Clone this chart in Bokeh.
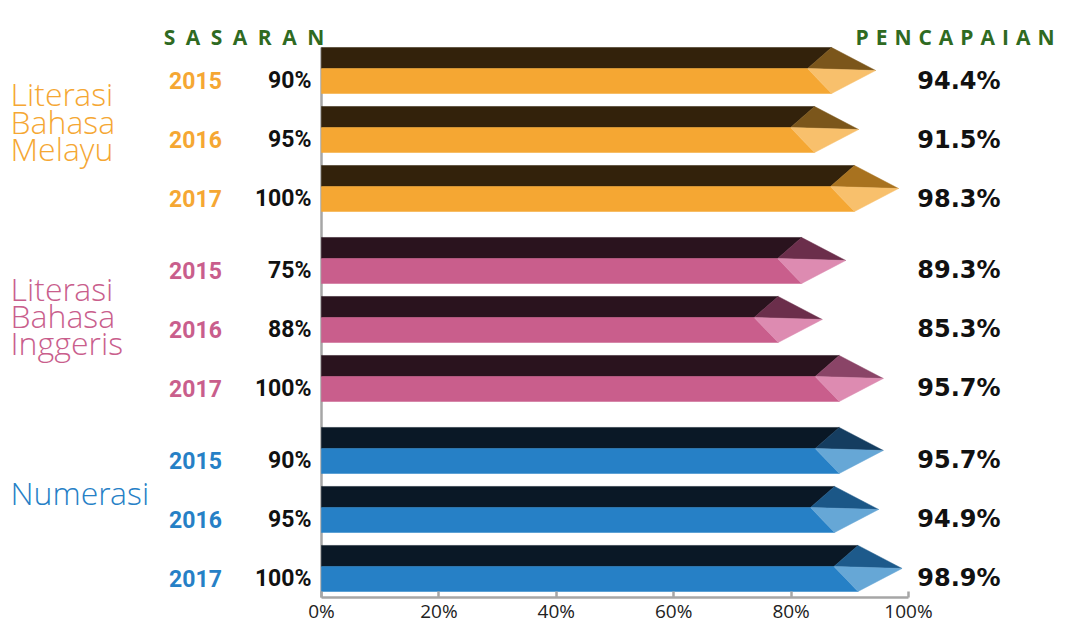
from bokeh.plotting import figure
from bokeh.models import Range1d, FixedTicker, PrintfTickFormatter
from bokeh.core.properties import value
from bokeh.embed import file_html
from bokeh.resources import INLINE

# ---------------- data ----------------
group_lines = [["Literasi", "Bahasa", "Melayu"],
               ["Literasi", "Bahasa", "Inggeris"],
               ["Numerasi"]]
years = ["2015", "2016", "2017"]
sasaran_melayu = [90, 95, 100]
sasaran_inggeris = [75, 88, 100]
sasaran_numerasi = [90, 95, 100]
pencapaian_melayu = [94.4, 91.5, 98.3]
pencapaian_inggeris = [89.3, 85.3, 95.7]
pencapaian_numerasi = [95.7, 94.9, 98.9]
x_ticks = [0, 20, 40, 60, 80, 100]
title_left = "S\u2002A\u2002S\u2002A\u2002R\u2002A\u2002N"
title_right = "P\u2004E\u2004N\u2004C\u2004A\u2004P\u2004A\u2004I\u2004A\u2004N"

sasaran = [sasaran_melayu, sasaran_inggeris, sasaran_numerasi]
pencapaian = [pencapaian_melayu, pencapaian_inggeris, pencapaian_numerasi]

# ---------------- style / layout ----------------
main_col = ["#f5a733", "#c95e8c", "#2680c6"]
dark_col = ["#33220b", "#2a131e", "#0a1826"]
tip_dark_col = [["#7b561b", "#7b561b", "#a8721f"],
                ["#6b2e4b", "#6b2e4b", "#8a4467"],
                ["#153d60", "#1b5787", "#1d5a8b"]]
tip_light_col = ["#f8c06c", "#dd8bb1", "#66a7d6"]
label_base_px = [[23, 50.5, 78], [28, 55, 82], [42]]   # baseline offsets from group start (px)
SLOT = 59.0        # pixels per bar slot
C0 = 70.0          # canvas y of first bar centre
GROUP_STEP = 3.22
HALF = 0.39
MID = -0.034
BODY = 7.5
INNER = 11.6
PX = 5.87          # pixels per percent
ZERO = 321         # canvas x of 0%
W, H = 1055, 623


def xs(px):
    return (px - ZERO) / PX


def ys(py):
    return (py - C0) / SLOT


p = figure(width=W, height=H, output_backend="svg", toolbar_location=None,
           x_range=Range1d(xs(0), xs(W)), y_range=Range1d(ys(H), ys(0)),
           min_border=0, min_border_left=0, min_border_right=0, min_border_top=0,
           min_border_bottom=0, y_axis_location=None)
p.xgrid.visible = False
p.ygrid.visible = False
p.outline_line_color = None
p.background_fill_color = "white"
p.border_fill_color = "white"

AXIS_Y = ys(597)
ax = p.xaxis[0]
ax.fixed_location = AXIS_Y
ax.ticker = FixedTicker(ticks=x_ticks)
ax.formatter = PrintfTickFormatter(format="%d%%")
ax.bounds = (0, 100)
ax.axis_line_color = "#a6a6a6"
ax.axis_line_width = 2.5
ax.major_tick_line_color = "#a6a6a6"
ax.major_tick_line_width = 2.5
ax.major_tick_in = 6
ax.major_tick_out = 0
ax.minor_tick_line_color = None
ax.major_label_standoff = 0
ax.major_label_text_font = "Open Sans"
ax.major_label_text_font_size = "19px"
ax.major_label_text_color = "#222222"

# vertical baseline
p.segment(x0=[0], y0=[-HALF], x1=[0], y1=[AXIS_Y], line_color="#a6a6a6", line_width=2.5)

for g in range(3):
    dark_xs, dark_ys, main_xs, main_ys = [], [], [], []
    td_xs, td_ys, tl_xs, tl_ys, td_c = [], [], [], [], []
    centers = []
    for i in range(3):
        v = pencapaian[g][i]
        c = g * GROUP_STEP + i
        centers.append(c)
        top, mid, bot = c - HALF, c + MID, c + HALF
        be, inn = v - BODY, v - INNER
        dark_xs.append([0, be, inn, 0]); dark_ys.append([top, top, mid, mid])
        main_xs.append([0, inn, be, 0]); main_ys.append([mid, mid, bot, bot])
        td_xs.append([be, v, inn]); td_ys.append([top, c, mid])
        tl_xs.append([inn, v, be]); tl_ys.append([mid, c, bot])
        td_c.append(tip_dark_col[g][i])
    p.patches(dark_xs, dark_ys, fill_color=dark_col[g], line_color=dark_col[g], line_width=0.5)
    p.patches(main_xs, main_ys, fill_color=main_col[g], line_color=main_col[g], line_width=0.5)
    p.patches(td_xs, td_ys, fill_color=td_c, line_color=td_c, line_width=0.5)
    p.patches(tl_xs, tl_ys, fill_color=tip_light_col[g], line_color=tip_light_col[g], line_width=0.5)

    base = [c + 10 / SLOT for c in centers]
    p.text(x=[xs(195)] * 3, y=base, text=years, text_align="center",
           text_baseline="alphabetic", text_font=value("Roboto"), text_font_style="bold",
           text_font_size="23px", text_color=main_col[g])
    p.text(x=[xs(311)] * 3, y=base, text=[f"{s}%" for s in sasaran[g]],
           text_align="right", text_baseline="alphabetic", text_font=value("Roboto"),
           text_font_style="bold", text_font_size="23px", text_color="#111111")
    p.text(x=[xs(1000)] * 3, y=base, text=[f"{a}%" for a in pencapaian[g]],
           text_align="right", text_baseline="alphabetic", text_font=value("DejaVu Sans"),
           text_font_style="bold", text_font_size="24px", text_color="#111111")
    gy = [g * GROUP_STEP + off / SLOT for off in label_base_px[g]]
    p.text(x=[xs(10)] * len(gy), y=gy, text=group_lines[g],
           text_align="left", text_baseline="alphabetic",
           text_font=value("Open Sans Light"),
           text_font_size="32px", text_color=main_col[g])

ty = ys(36)
p.text(x=[xs(243.5)], y=[ty], text=[title_left], text_align="center",
       text_baseline="alphabetic", text_font=value("Open Sans"), text_font_size="21px",
       text_font_style="bold", text_color="#2f6a22")
p.text(x=[xs(1054)], y=[ty], text=[title_right], text_align="right",
       text_baseline="alphabetic", text_font=value("Open Sans"), text_font_size="21px",
       text_font_style="bold", text_color="#2f6a22")

open("out.html", "w").write(file_html(p, INLINE))
